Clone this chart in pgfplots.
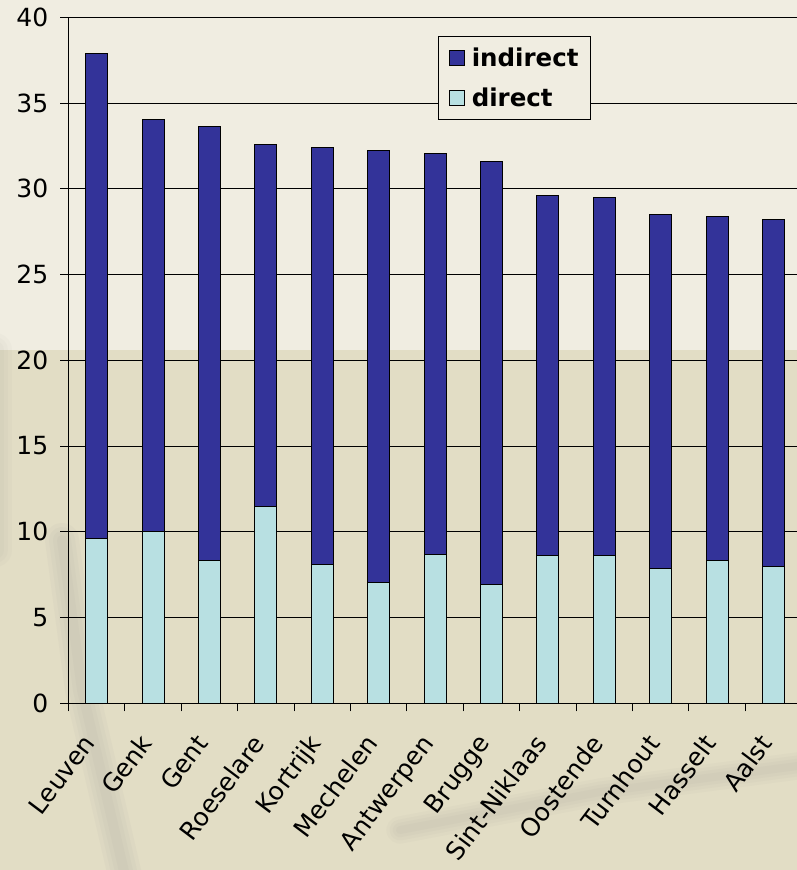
\documentclass[border=0pt]{standalone}
\usepackage{fontspec}
\setmainfont{DejaVu Sans}
\usepackage{pgfplots}
\pgfplotsset{compat=1.18}
\definecolor{indir}{HTML}{333399}
\definecolor{dir}{HTML}{B8E0E2}
\definecolor{bgtop}{HTML}{F0EDE1}
\definecolor{bgbot}{HTML}{E2DDC5}
\begin{document}
\begin{tikzpicture}
\fill[bgtop] (0pt,0pt) rectangle (797pt,870pt);
\fill[bgbot] (0pt,0pt) rectangle (797pt,520pt);
\foreach \w in {34,26,18,10} {
  \draw[gray, opacity=0.045, line width=\w pt, line cap=round] (62pt,330pt) -- (82pt,180pt) -- (126pt,-10pt);
  \draw[gray, opacity=0.04, line width=0.8*\w pt, line cap=round] (400pt,40pt) -- (600pt,78pt) -- (805pt,105pt);
  \draw[gray, opacity=0.035, line width=\w pt, line cap=round] (-5pt,520pt) -- (-5pt,320pt);
}
\begin{axis}[
  at={(68.5pt,166.7pt)}, anchor=south west,
  scale only axis, width=728.5pt, height=686pt,
  ybar stacked, bar width=22pt,
  xmin=-0.5, xmax=12.417, ymin=0, ymax=40,
  axis x line*=bottom, axis y line*=left,
  axis line style={line width=1.2pt},
  ymajorgrids, grid style={black, line width=1pt},
  ytick={0,5,...,40},
  xtick={0,...,12},
  xticklabels={Leuven,Genk,Gent,Roeselare,Kortrijk,Mechelen,Antwerpen,Brugge,Sint-Niklaas,Oostende,Turnhout,Hasselt,Aalst},
  minor xtick={-0.5,0.5,...,11.5},
  major x tick style={draw=none},
  tick style={black, line width=1pt},
  major tick length=8pt, minor tick length=8pt, tick align=outside,
  /pgf/number format/assume math mode=true,
  tick label style={font=\fontsize{25}{30}\selectfont},
  yticklabel style={anchor=east, inner sep=0pt, xshift=-12pt},
  xticklabel style={yshift=-21pt, xshift=-15pt, rotate=53, anchor=north east, inner sep=0pt},
  legend style={at={(0.5069,0.9732)}, anchor=north west, fill=bgtop, draw=black, line width=1pt,
     font=\bfseries\fontsize{24.5}{29}\selectfont, inner xsep=10.5pt, inner ysep=9.5pt, row sep=16pt,
     nodes={inner sep=2pt},
     /tikz/every odd column/.append style={column sep=5pt}},
  legend cell align=left, reverse legend,
  legend image code/.code={\draw[#1, line width=1pt, draw=black] (0pt,-7.5pt) rectangle (15pt,7.5pt);},
]
\addplot[fill=dir, draw=black, line width=1pt] coordinates {
(0,9.6) (1,10.0) (2,8.35) (3,11.5) (4,8.1) (5,7.05) (6,8.7) (7,6.95) (8,8.6) (9,8.6) (10,7.85) (11,8.35) (12,8.0)};
\addplot[fill=indir, draw=black, line width=1pt] coordinates {
(0,28.3) (1,24.05) (2,25.3) (3,21.1) (4,24.3) (5,25.2) (6,23.35) (7,24.65) (8,21.0) (9,20.9) (10,20.65) (11,20.05) (12,20.2)};
\legend{direct,indirect}
\end{axis}
\pgfresetboundingbox
\path[use as bounding box] (0pt,0pt) rectangle (797pt,870pt);
\end{tikzpicture}
\end{document}
